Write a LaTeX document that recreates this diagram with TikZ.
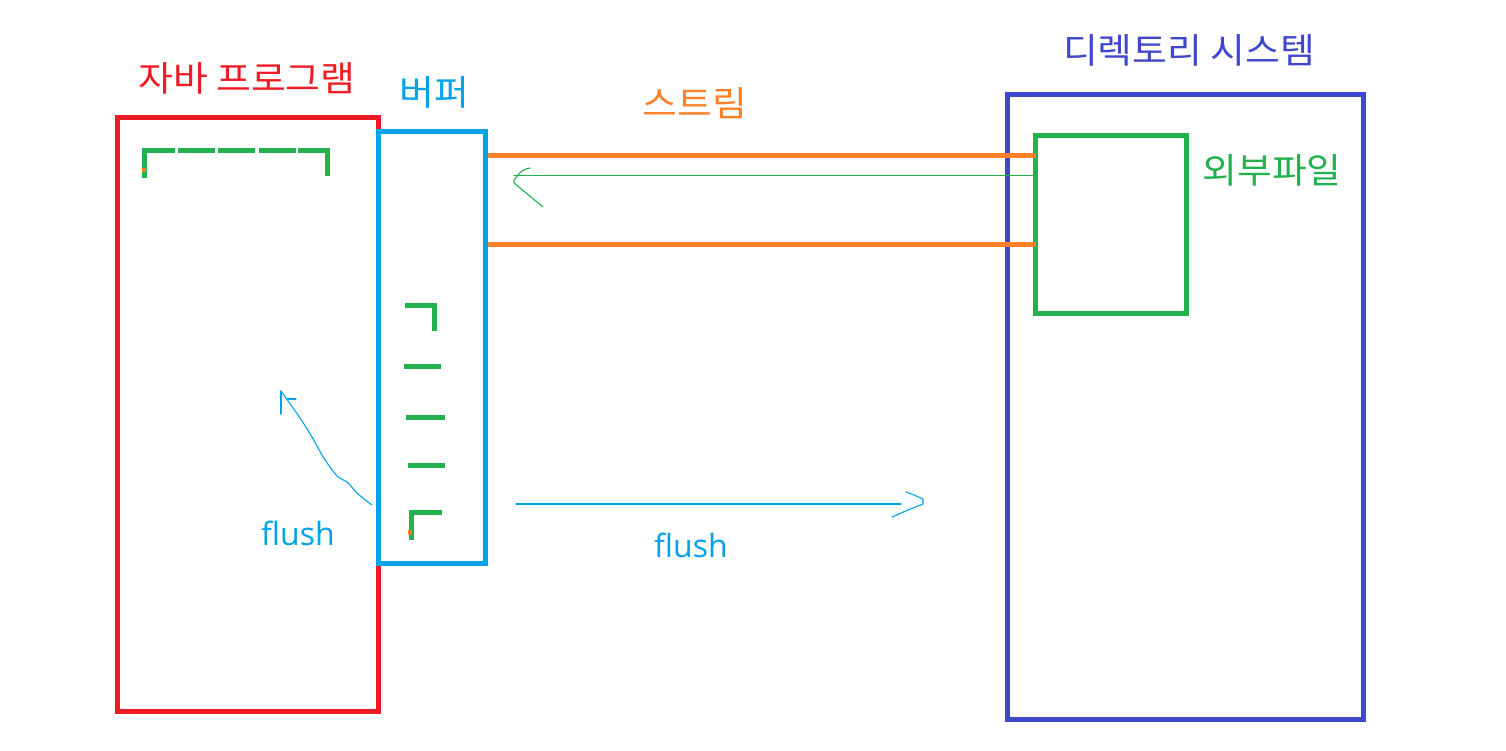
\documentclass[tikz,border=0pt]{standalone}
\usepackage{fontspec}
\setmainfont{Noto Sans CJK KR}[FakeStretch=1.08]
\newfontfamily\latinf{Open Sans}
\usetikzlibrary{calc}
\definecolor{jred}{HTML}{ED1C24}
\definecolor{jblue}{HTML}{00A2E8}
\definecolor{jorange}{HTML}{FF7F27}
\definecolor{jgreen}{HTML}{22B14C}
\definecolor{jindigo}{HTML}{3F48CC}
\tikzset{
  box/.style={draw, line width=5pt, inner sep=0pt, outer sep=0pt, rectangle},
  ko/.style={font=\fontsize{35}{35}\selectfont, inner sep=0pt, anchor=base},
  fl/.style={font=\latinf\fontsize{32}{32}\selectfont, text=jblue, inner sep=0pt, anchor=base west},
  gmark/.style={draw=jgreen, line width=5pt, line cap=butt, line join=miter},
  stream/.style={draw=jorange, line width=5pt, line cap=butt},
  thinline/.style={line width=1.1pt, line cap=round, line join=round},
}
\begin{document}
\begin{tikzpicture}[x=1pt,y=-1pt]
\useasboundingbox[fill=white] (0,0) rectangle (1506,751);

% boxes
\node[box, draw=jred, minimum width=261pt, minimum height=593.5pt] (java) at (248,414.25) {};
\node[box, draw=jindigo, minimum width=356pt, minimum height=624.2pt] (dir) at (1185.5,406.9) {};
\node[box, draw=jgreen, minimum width=151pt, minimum height=177.5pt] (file) at (1111,224.25) {};
\node[box, draw=jblue, minimum width=106.5pt, minimum height=432pt] (buf) at (431.75,347.5) {};

% labels
\node[ko, text=jred] (tjava) at (247,91.5) {자바 프로그램};
\node[ko, text=jblue] (tbuf) at (434,105.5) {버퍼};
\node[ko, text=jorange] (tstream) at (695,116.5) {스트림};
\node[ko, text=jindigo] (tdir) at (1189,63.5) {디렉토리 시스템};
\node[ko, text=jgreen] (tfile) at (1272,183.5) {외부파일};
\node[fl] (flushL) at (261,545.7) {flush};
\node[fl] (flushR) at (654,557.5) {flush};

% stream lines
\draw[stream] ($(buf.east |- 0,155.5)+(2.5,0)$) -- ($(file.west |- 0,155.5)+(0.5,0)$);
\draw[stream] ($(buf.east |- 0,244.5)+(2.5,0)$) -- ($(file.west |- 0,244.5)+(0.5,0)$);

% green return arrow
\coordinate (gend) at (514,175.5);
\draw[thinline, draw=jgreen] (file.west |- 0,175.5) -- (gend);
\draw[thinline, draw=jgreen] (530,168) .. controls (522,170) .. (514,180) -- (514,183) -- (543,207);

% green marks in program box
\draw[gmark] (144.5,177.7) -- (144.5,150.5) -- (175,150.5);
\draw[gmark] (178,150.5) -- (215,150.5);
\draw[gmark] (218,150.5) -- (255,150.5);
\draw[gmark] (259,150.5) -- (296,150.5);
\draw[gmark] (298,150.5) -- (327.5,150.5) -- (327.5,175.7);

% green marks in buffer
\draw[gmark] (405,305.5) -- (434.5,305.5) -- (434.5,331);
\draw[gmark] (404,366.5) -- (441,366.5);
\draw[gmark] (406,417.5) -- (445,417.5);
\draw[gmark] (408,465.5) -- (445,465.5);
\draw[gmark] (411.5,540) -- (411.5,512.5) -- (442,512.5);

% orange dots
\fill[jorange] (142,168) rectangle (146,172);
\fill[jorange] (408,530) rectangle (412,535);

% flush arrow to program
\coordinate (lf0) at (372,505);
\coordinate (lf1) at (281,391);
\draw[thinline, draw=jblue] plot[smooth] coordinates {(lf0) (358,494) (347,482) (338,477) (330,467) (322,455) (312,437) (300,418) (lf1)};
\draw[thinline, draw=jblue] (lf1) -- (281,414);
\draw[thinline, draw=jblue] (287,399) -- (296,399);

% flush arrow to directory
\coordinate (rf0) at (516,504);
\coordinate (rf1) at (901,504);
\draw[thinline, draw=jblue] (rf0) -- (rf1);
\draw[thinline, draw=jblue] (906,492) -- (914,495) -- (923,499) -- (923,504) -- (908,510) -- (892,517);
\end{tikzpicture}
\end{document}
